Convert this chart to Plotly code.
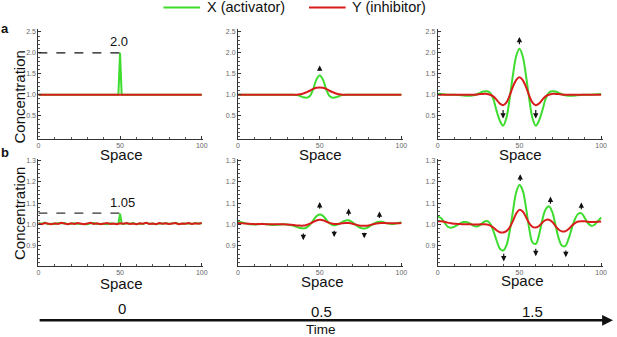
import plotly.graph_objects as go

W, H = 617, 337

# ---------------- data ----------------
space_grid = list(range(0, 101, 2))

# row a, t = 0 (single spike of X to 2.0)
a0_x_space = [0, 49, 50, 51, 100]
a0_x_conc = [1.0, 1.0, 2.0, 1.0, 1.0]
a0_y_space = [0, 100]
a0_y_conc = [1.0, 1.0]

# row a, t = 0.5
a1_x_conc = [1.0] * 18 + [0.99, 0.97, 0.94, 0.93, 0.97, 1.13, 1.36, 1.46, 1.36, 1.13, 0.97, 0.93, 0.94, 0.97, 0.99] + [1.0] * 18
a1_y_conc = [1.0] * 19 + [1.01, 1.03, 1.06, 1.095, 1.14, 1.165, 1.17, 1.165, 1.14, 1.095, 1.06, 1.03, 1.01] + [1.0] * 19

# row a, t = 1.5
a2_x_conc = [1.02, 1.02, 1.01, 1.0, 1.0, 1.0, 0.995, 0.99, 0.98, 0.975, 0.975, 0.985, 1.01, 1.045, 1.075, 1.085,
             1.05, 0.9, 0.62, 0.38, 0.26, 0.44, 0.9, 1.46, 1.92, 2.1, 1.92, 1.46, 0.9, 0.44, 0.26, 0.38, 0.62, 0.9,
             1.05, 1.085, 1.075, 1.045, 1.01, 0.985, 0.975, 0.975, 0.98, 0.99, 0.995, 1.0, 1.0, 1.0, 1.005, 1.01, 1.015]
a2_y_conc = [1.0] * 12 + [1.005, 1.015, 1.02, 1.02, 1.0, 0.96, 0.88, 0.79, 0.75, 0.81, 0.98, 1.19, 1.35, 1.42,
             1.35, 1.19, 0.98, 0.81, 0.75, 0.79, 0.88, 0.96, 1.0, 1.02, 1.02, 1.015, 1.005] + [1.0] * 12

# row b, t = 0 (small spike to 1.05 on a noisy background)
b0_x_space = list(range(0, 49, 2)) + [49, 50, 51] + list(range(52, 101, 2))
b0_x_conc = [1.006, 1.003, 1.008, 1.001, 1.003, 1.002, 1.005, 1.004, 1.006, 1.0, 1.003, 1.005, 1.003, 1.002, 1.004,
             1.001, 1.005, 1.006, 1.002, 1.004, 1.003, 1.001, 1.005, 1.003, 1.004,
             1.004, 1.05, 1.004,
             1.002, 1.005, 1.003, 1.006, 1.001, 1.004, 1.002, 1.007, 1.003, 1.004, 1.0, 1.005, 1.003, 1.006, 1.002,
             1.004, 1.007, 1.002, 1.004, 1.003, 1.005, 1.002, 1.006, 1.004, 1.005]
b0_y_conc = [1.004, 1.001, 1.006, 1.003, 1.0, 1.005, 1.002, 1.007, 1.003, 1.001, 1.005, 1.002, 1.006, 1.004, 1.0,
             1.004, 1.007, 1.002, 1.005, 1.001, 1.003, 1.006, 1.002, 1.004, 1.001, 1.005, 1.003, 1.006, 1.002,
             1.004, 1.0, 1.005, 1.003, 1.007, 1.002, 1.004, 1.001, 1.006, 1.003, 1.005, 1.002, 1.004, 1.006,
             1.001, 1.004, 1.003, 1.006, 1.002, 1.005, 1.003, 1.006]

# row b, t = 0.5
b1_x_conc = [1.012, 1.01, 1.006, 1.002, 1.0, 0.999, 1.0, 1.002, 1.002, 1.0, 0.998, 0.997, 0.998, 0.999, 1.0, 0.999,
             0.997, 0.993, 0.988, 0.983, 0.981, 0.985, 0.998, 1.018, 1.038, 1.046, 1.04, 1.022, 1.005, 0.997, 0.997,
             1.003, 1.012, 1.018, 1.018, 1.01, 0.998, 0.987, 0.981, 0.981, 0.988, 0.998, 1.007, 1.012, 1.012, 1.008,
             1.004, 1.002, 1.003, 1.006, 1.01]
b1_y_conc = [1.006, 1.005, 1.004, 1.003, 1.002, 1.001, 1.001, 1.001, 1.001, 1.0, 1.0, 1.0, 1.0, 1.0, 1.0, 0.999,
             0.998, 0.997, 0.995, 0.994, 0.994, 0.997, 1.003, 1.011, 1.018, 1.021, 1.019, 1.013, 1.007, 1.003, 1.002,
             1.003, 1.005, 1.006, 1.006, 1.003, 0.999, 0.995, 0.993, 0.993, 0.995, 0.999, 1.003, 1.005, 1.006, 1.006,
             1.005, 1.005, 1.005, 1.005, 1.006]

# row b, t = 1.5
b2_x_conc = [1.036, 1.03, 1.01, 0.99, 0.984, 0.988, 0.997, 1.006, 1.011, 1.01, 1.003, 0.993, 0.99, 0.996, 1.01,
             1.016, 1.005, 0.97, 0.925, 0.886, 0.877, 0.9, 0.965, 1.06, 1.15, 1.185, 1.16, 1.08, 0.98, 0.915, 0.908,
             0.95, 1.02, 1.07, 1.085, 1.06, 1.0, 0.935, 0.9, 0.897, 0.93, 0.98, 1.025, 1.05, 1.052, 1.03, 1.005,
             0.993, 0.998, 1.015, 1.032]
b2_y_conc = [1.015, 1.014, 1.012, 1.008, 1.005, 1.003, 1.002, 1.001, 1.0, 1.0, 1.0, 0.999, 0.999, 1.0, 1.0, 0.999,
             0.995, 0.985, 0.972, 0.963, 0.962, 0.968, 0.985, 1.015, 1.05, 1.068, 1.06, 1.035, 1.005, 0.988, 0.985,
             0.992, 1.008, 1.02, 1.022, 1.012, 0.993, 0.976, 0.967, 0.967, 0.977, 0.993, 1.006, 1.013, 1.015, 1.014,
             1.012, 1.011, 1.011, 1.012, 1.013]

# growth arrows: space position, tail value, head value
a1_arrow_pos = [50]
a1_arrow_tail = [1.54]
a1_arrow_head = [1.70]
a2_arrow_pos = [50, 40, 60]
a2_arrow_tail = [2.17, 0.67, 0.67]
a2_arrow_head = [2.38, 0.43, 0.43]
b1_arrow_pos = [50, 67.7, 86.6, 40, 58.9, 77.3]
b1_arrow_tail = [1.066, 1.034, 1.023, 0.964, 0.977, 0.967]
b1_arrow_head = [1.105, 1.075, 1.061, 0.925, 0.94, 0.934]
b2_arrow_pos = [50.5, 69, 87.9, 40.4, 60, 78.4]
b2_arrow_tail = [1.197, 1.09, 1.064, 0.869, 0.892, 0.884]
b2_arrow_head = [1.236, 1.131, 1.103, 0.825, 0.85, 0.845]

time_labels = ["0", "0.5", "1.5"]
top_ticks = [0.5, 1.0, 1.5, 2.0, 2.5]
bottom_ticks = [0.9, 1.0, 1.1, 1.2, 1.3]
space_ticks = [0, 50, 100]

GREEN = "#3ddc2e"
RED = "#d81c1c"
FONT = "Liberation Sans, Arial, sans-serif"


def px(x):
    return x / W


def py(y):
    return 1 - y / H


fig = go.Figure()

panels = [
    (1, a0_x_space, a0_x_conc, a0_y_space, a0_y_conc),
    (2, space_grid, a1_x_conc, space_grid, a1_y_conc),
    (3, space_grid, a2_x_conc, space_grid, a2_y_conc),
    (4, b0_x_space, b0_x_conc, space_grid, b0_y_conc),
    (5, space_grid, b1_x_conc, space_grid, b1_y_conc),
    (6, space_grid, b2_x_conc, space_grid, b2_y_conc),
]
for i, xs, xv, ys, yv in panels:
    ax = "" if i == 1 else str(i)
    smooth = i in (2, 3, 5, 6)
    fig.add_trace(go.Scatter(x=xs, y=xv, mode="lines", xaxis="x" + ax, yaxis="y" + ax,
                             line=dict(color=GREEN, width=2, shape="spline" if smooth else "linear"),
                             name="X (activator)", showlegend=False))
    fig.add_trace(go.Scatter(x=ys, y=yv, mode="lines", xaxis="x" + ax, yaxis="y" + ax,
                             line=dict(color=RED, width=2, shape="spline" if smooth else "linear"),
                             name="Y (inhibitor)", showlegend=False))

# axes layout
x_left = [36.7, 238.3, 440.0]
x_unit = 1.65  # px per space unit
top_rng = [-0.05, 2.56]
bot_rng = [0.804, 1.31]
top_dom = [py(94 + 1.05 * 42), py(94 - 1.56 * 42)]
bot_dom = [py(224 + 0.196 * 213), py(224 - 0.31 * 213)]

layout_axes = {}
for i in range(1, 7):
    col = (i - 1) % 3
    row = (i - 1) // 3
    xl = x_left[col]
    xdom = [px(xl), px(xl + 101 * x_unit)]
    ydom = top_dom if row == 0 else bot_dom
    rng = top_rng if row == 0 else bot_rng
    yt = top_ticks if row == 0 else bottom_ticks
    suffix = "" if i == 1 else str(i)
    common = dict(showgrid=False, zeroline=False, showline=True, linecolor="#333", linewidth=1,
                  ticks="inside", ticklen=3, tickcolor="#333", tickwidth=1,
                  tickfont=dict(size=7, color="#666", family=FONT))
    layout_axes["xaxis" + suffix] = dict(domain=xdom, range=[0, 101], anchor="y" + suffix,
                                         tickvals=space_ticks, ticktext=[str(v) for v in space_ticks],
                                         minor=dict(ticks="inside", ticklen=2, dtick=10, tickcolor="#555"),
                                         **common)
    layout_axes["yaxis" + suffix] = dict(domain=ydom, range=rng, anchor="x" + suffix,
                                         tickvals=yt, ticktext=["%.1f" % v for v in yt],
                                         minor=dict(ticks="inside", ticklen=2,
                                                    dtick=0.1 if row == 0 else 0.02, tickcolor="#555"),
                                         **common)

annotations = []
shapes = []


def label(text, cx, cy, size=15, **kw):
    d = dict(x=px(cx), y=py(cy), xref="paper", yref="paper", text=text, showarrow=False,
             xanchor="center", yanchor="middle", font=dict(size=size, color="#111", family=FONT))
    d.update(kw)
    annotations.append(d)


# arrows inside panels
for i, pos, tail, head in [(2, a1_arrow_pos, a1_arrow_tail, a1_arrow_head),
                           (3, a2_arrow_pos, a2_arrow_tail, a2_arrow_head),
                           (5, b1_arrow_pos, b1_arrow_tail, b1_arrow_head),
                           (6, b2_arrow_pos, b2_arrow_tail, b2_arrow_head)]:
    for p, t, h in zip(pos, tail, head):
        annotations.append(dict(x=p, y=h, ax=p, ay=t, xref="x%d" % i, yref="y%d" % i,
                                axref="x%d" % i, ayref="y%d" % i, text="", showarrow=True,
                                arrowhead=2, arrowsize=0.9, arrowwidth=1.2, arrowcolor="#111",
                                standoff=0, startstandoff=0))

# dashed reference lines and their labels
shapes.append(dict(type="line", xref="x", yref="y", x0=0, x1=50, y0=2.0, y1=2.0,
                   line=dict(color="#111", width=1.3, dash="dash")))
shapes.append(dict(type="line", xref="x4", yref="y4", x0=0, x1=50, y0=1.053, y1=1.053,
                   line=dict(color="#333", width=1.3, dash="dash")))
label("2.0", 118.3, 40.7, size=13)
label("1.05", 121.7, 201.7, size=13)

# axis titles
for cx, cy in [(120.7, 153.5), (322, 153.5), (524, 153.5), (120.7, 283.5), (324, 281.5), (525.3, 280)]:
    label("Space", cx, cy, size=15)
for cy in [96.5, 213.3]:
    label("Concentration", 17.5, cy, size=15, textangle=-90)

# panel letters
label("<b>a</b>", 3, 28, size=13)
label("<b>b</b>", 3.5, 151.5, size=13)

# legend (drawn manually)
shapes.append(dict(type="line", xref="paper", yref="paper", x0=px(163), x1=px(200), y0=py(6.5), y1=py(6.5),
                   line=dict(color=GREEN, width=2)))
shapes.append(dict(type="line", xref="paper", yref="paper", x0=px(310), x1=px(347), y0=py(6.5), y1=py(6.5),
                   line=dict(color=RED, width=2)))
label("X (activator)", 205, 6.5, size=14.5, xanchor="left")
label("Y (inhibitor)", 351, 6.5, size=14.5, xanchor="left")

# time axis
shapes.append(dict(type="line", xref="paper", yref="paper", x0=px(38), x1=px(608), y0=py(320.3), y1=py(320.3),
                   line=dict(color="#111", width=2.5)))
shapes.append(dict(type="path", xref="paper", yref="paper",
                   path="M %f %f L %f %f L %f %f Z" % (px(606), py(315), px(617), py(320.3), px(606), py(325.6)),
                   fillcolor="#111", line=dict(color="#111", width=0)))
for lbl, cx, cy in zip(time_labels, [120.7, 322.7, 535.3], [308.3, 311, 311]):
    label(lbl, cx, cy, size=15)
label("Time", 322, 329.5, size=13.5)

fig.update_layout(width=W, height=H, margin=dict(l=0, r=0, t=0, b=0),
                  paper_bgcolor="white", plot_bgcolor="white", showlegend=False,
                  font=dict(family=FONT), annotations=annotations, shapes=shapes, **layout_axes)

fig.write_html("out.html", config={"displayModeBar": False},
               post_script="document.body.style.margin='0px';")
